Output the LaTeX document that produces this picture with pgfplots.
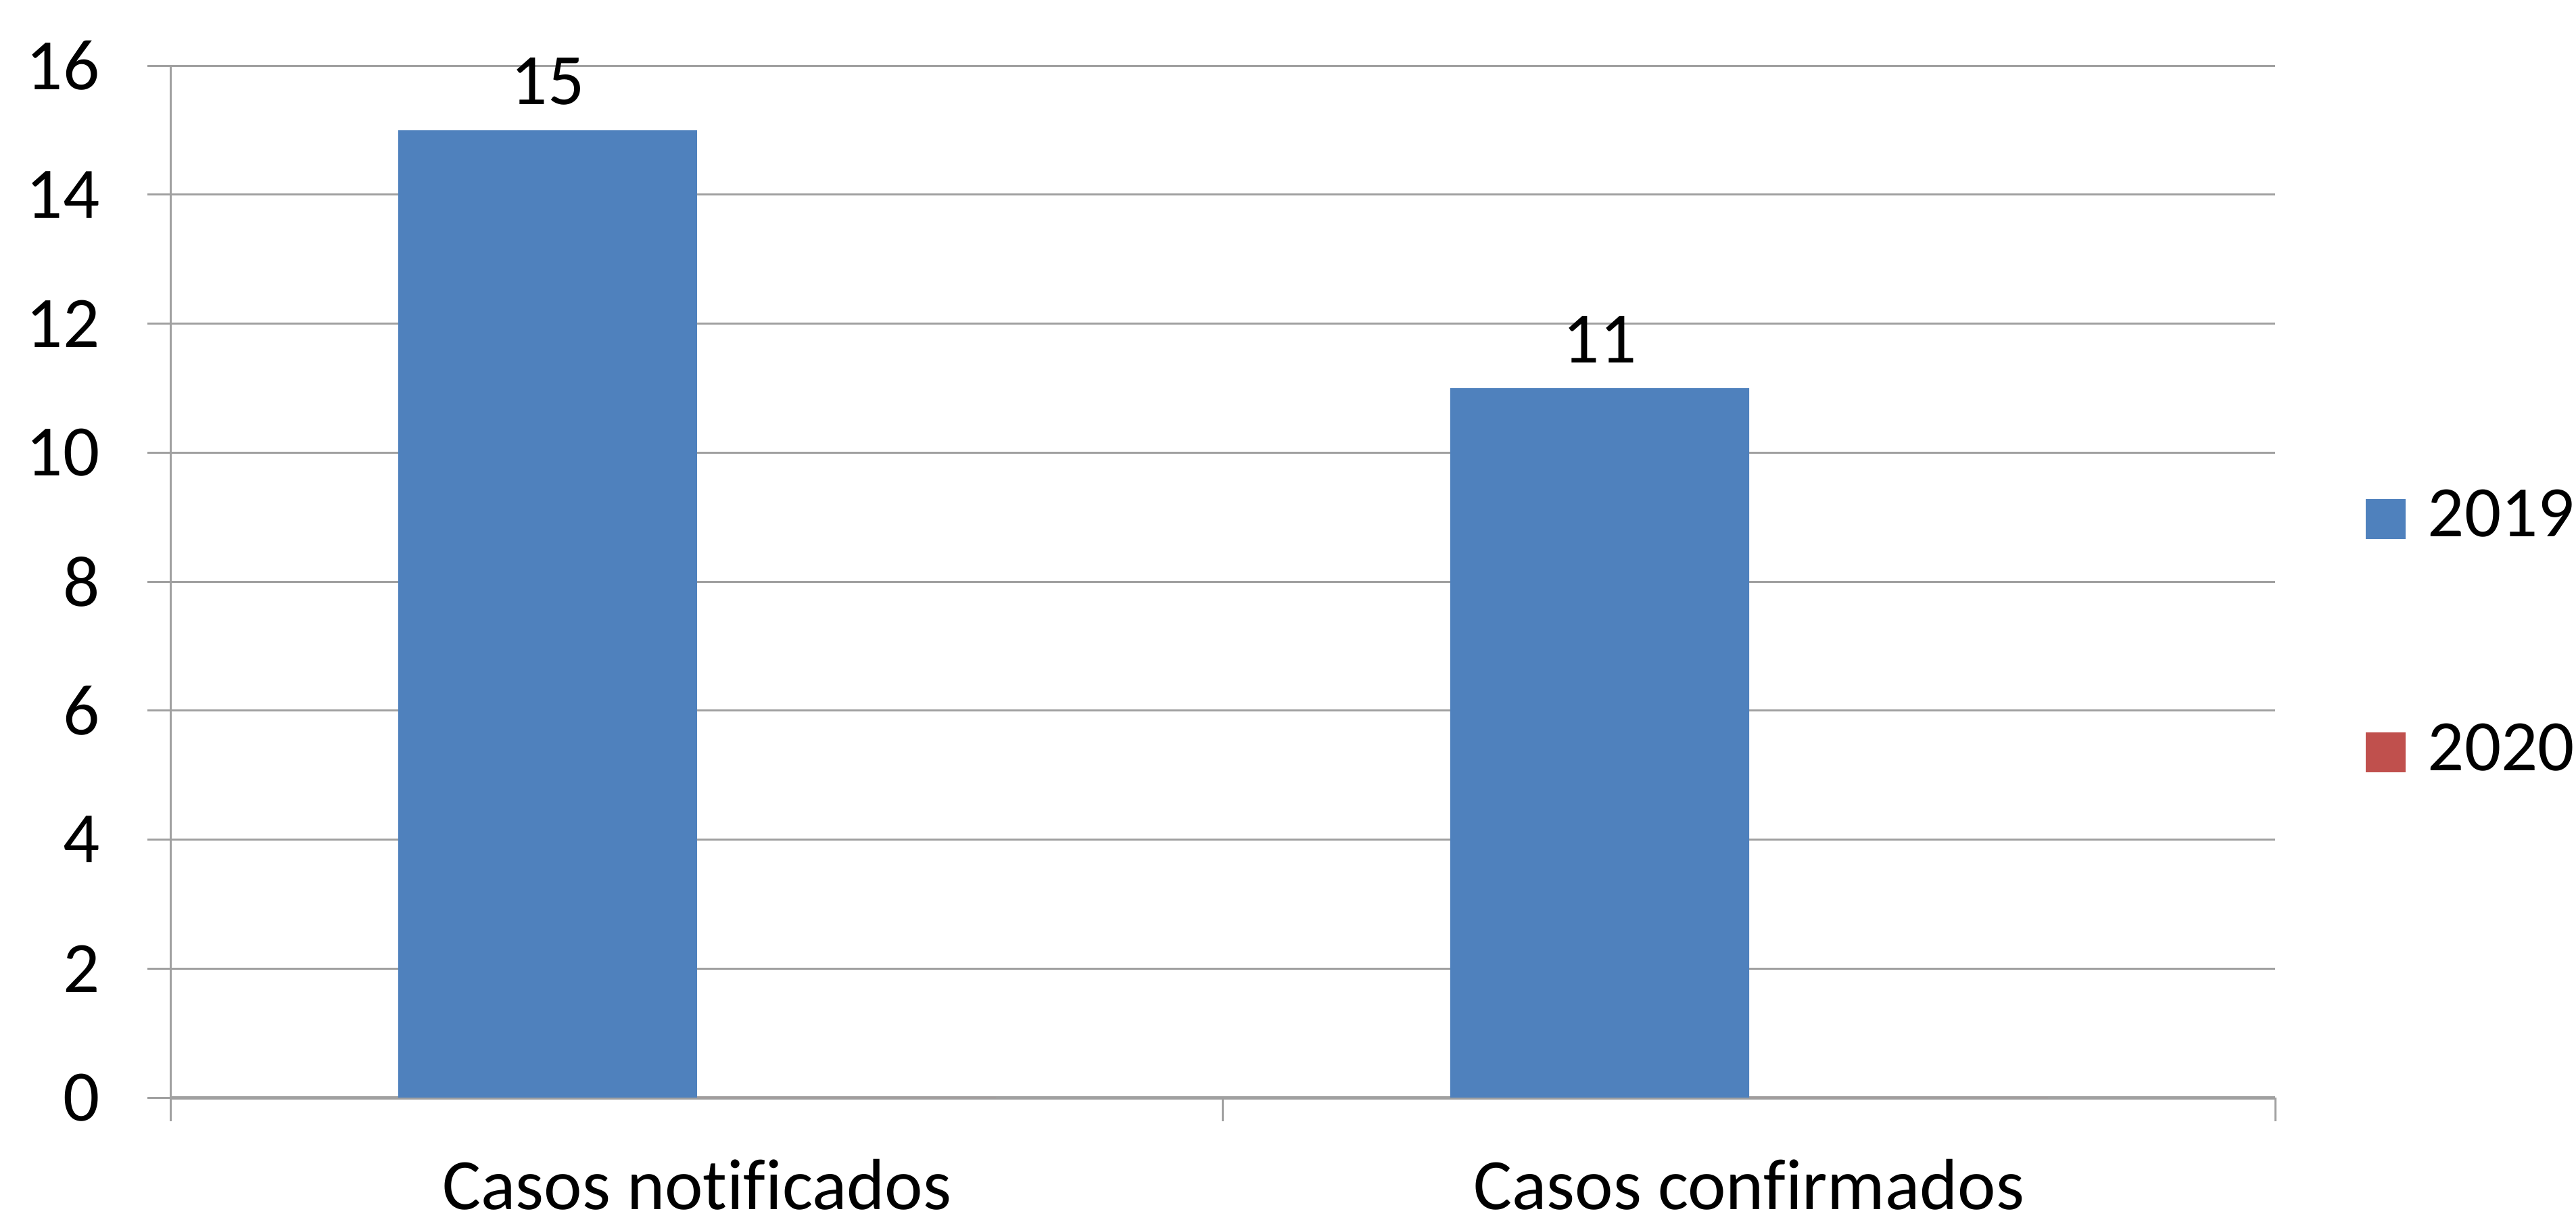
\documentclass[border=0pt]{standalone}
\usepackage{pgfplots}
\pgfplotsset{compat=1.18}
\usepackage{fontspec}
\setmainfont{Carlito}[Ligatures=CommonOff]
\definecolor{blue19}{HTML}{4F81BD}
\definecolor{red20}{HTML}{C0504D}
\definecolor{gridgray}{HTML}{A0A0A0}

\begin{document}
\fontsize{10.7pt}{12.8pt}\selectfont
\begin{tikzpicture}
\path[use as bounding box] (-25.3pt,-18.3pt) rectangle (355.7pt,162.3pt);
\begin{axis}[
    at={(0,0)}, anchor=south west,
    scale only axis, width=311.2pt, height=152.6pt,
    ybar=0pt, bar width=44.2pt,
    xmin=-0.5, xmax=1.5, ymin=0, ymax=16,
    ytick={0,2,...,16},
    xtick={-0.5,0.5,1.5}, xticklabels={},
    extra x ticks={0,1},
    extra x tick labels={Casos notificados, Casos confirmados},
    extra x tick style={major tick length=0pt},
    axis x line*=bottom, axis y line*=left,
    x axis line style={draw=gridgray, line width=0.5pt},
    y axis line style={draw=gridgray, line width=0.3pt},
    tick align=outside, major tick length=3.5pt,
    tick style={draw=gridgray, line width=0.3pt},
    ymajorgrids, major grid style={draw=gridgray, line width=0.3pt},
    /pgf/number format/assume math mode=true,
    tick label style={font=\fontsize{10.7pt}{12.8pt}\selectfont},
    yticklabel style={xshift=-3.3pt},
    xticklabel style={yshift=-5.4pt},
    legend style={draw=none, fill=none, at={(1.0424,0.4476)}, anchor=west,
        inner sep=0pt, nodes={inner sep=0pt}, column sep=3.3pt, row sep=26pt,
        font=\fontsize{10.7pt}{12.8pt}\selectfont},
    legend cell align=left,
    legend image code/.code={\fill[#1] (0pt,-2.95pt) rectangle (5.9pt,2.95pt);},
]
\addplot[fill=blue19, draw=none, nodes near coords,
    every node near coord/.append style={font=\fontsize{10.7pt}{12.8pt}\selectfont, black}]
    coordinates {(0,15) (1,11)};
\addplot[fill=red20, draw=none] coordinates {(0,0) (1,0)};
\legend{2019,2020}
\end{axis}
\end{tikzpicture}
\end{document}
